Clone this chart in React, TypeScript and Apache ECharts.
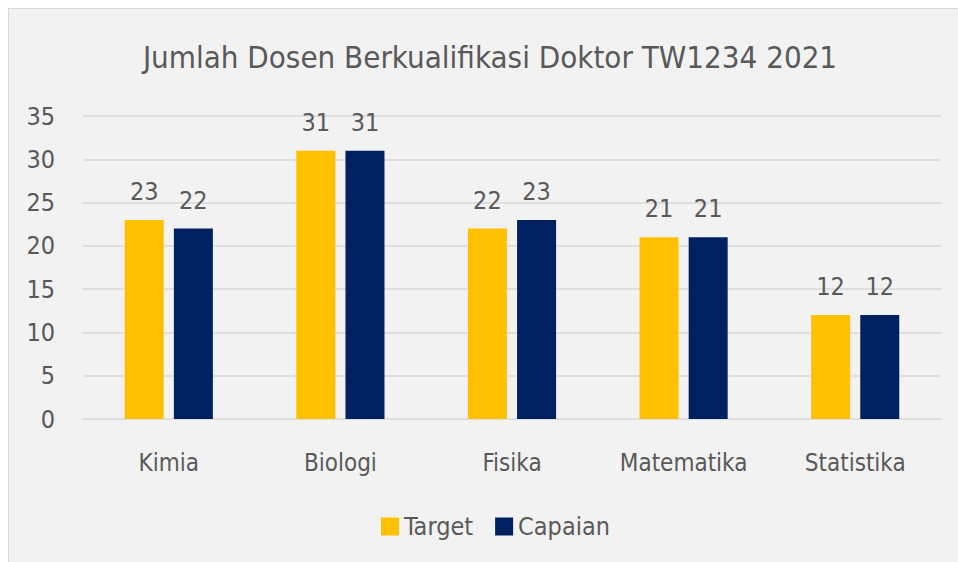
import React, { useEffect, useRef } from "react";
import * as echarts from "echarts";

const categories = ["Kimia", "Biologi", "Fisika", "Matematika", "Statistika"];
const targetValues = [23, 31, 22, 21, 12];
const capaianValues = [22, 31, 23, 21, 12];
const seriesNames = ["Target", "Capaian"];
const titleText = "Jumlah Dosen Berkualifikasi Doktor TW1234 2021";

const FONT = "'DejaVu Sans Condensed', sans-serif";
const TEXT = "#595959";

export default function App() {
  const ref = useRef<HTMLDivElement>(null);
  useEffect(() => {
    if (!ref.current) return;
    const chart = echarts.init(ref.current, null, { renderer: "svg" });
    chart.setOption({
      animation: false,
      backgroundColor: "#f2f2f2",
      textStyle: { fontFamily: FONT, color: TEXT },
      title: {
        text: titleText,
        left: 481,
        top: 32,
        padding: 0,
        textAlign: "center",
        textStyle: { fontFamily: FONT, fontSize: 31, fontWeight: "normal", color: TEXT },
      },
      legend: {
        data: seriesNames,
        top: 500,
        left: 367,
        itemWidth: 18,
        itemHeight: 18,
        itemGap: 22,
        icon: "rect",
        textStyle: { fontFamily: FONT, fontSize: 25, color: TEXT },
      },
      grid: { left: 74, right: 17, top: 107, bottom: 143, containLabel: false },
      xAxis: {
        type: "category",
        data: categories,
        axisLine: { show: false },
        axisTick: { show: false },
        axisLabel: { interval: 0, fontFamily: FONT, fontSize: 24, color: TEXT, margin: 32 },
      },
      yAxis: {
        type: "value",
        min: 0,
        max: 35,
        interval: 5,
        axisLine: { show: false },
        axisTick: { show: false },
        splitLine: { lineStyle: { color: "#d9d9d9", width: 1.5 } },
        axisLabel: { fontFamily: FONT, fontSize: 25, color: TEXT, margin: 28 },
      },
      series: [
        {
          name: seriesNames[0],
          type: "bar",
          data: targetValues,
          barWidth: 39,
          barGap: "26%",
          itemStyle: { color: "#FFC000" },
          label: { show: true, position: "top", distance: 16, fontFamily: FONT, fontSize: 25, color: TEXT },
        },
        {
          name: seriesNames[1],
          type: "bar",
          data: capaianValues,
          barWidth: 39,
          barGap: "26%",
          itemStyle: { color: "#002060" },
          label: { show: true, position: "top", distance: 16, fontFamily: FONT, fontSize: 25, color: TEXT },
        },
      ],
    });
    return () => chart.dispose();
  }, []);
  return (
    <div
      style={{
        position: "fixed",
        left: 8,
        top: 8,
        width: 950,
        height: 554,
        boxSizing: "border-box",
        borderTop: "1px solid #d9d9d9",
        borderLeft: "1px solid #d9d9d9",
        background: "#f2f2f2",
        overflow: "hidden",
      }}
    >
      <div ref={ref} style={{ width: 949, height: 553 }} />
    </div>
  );
}
